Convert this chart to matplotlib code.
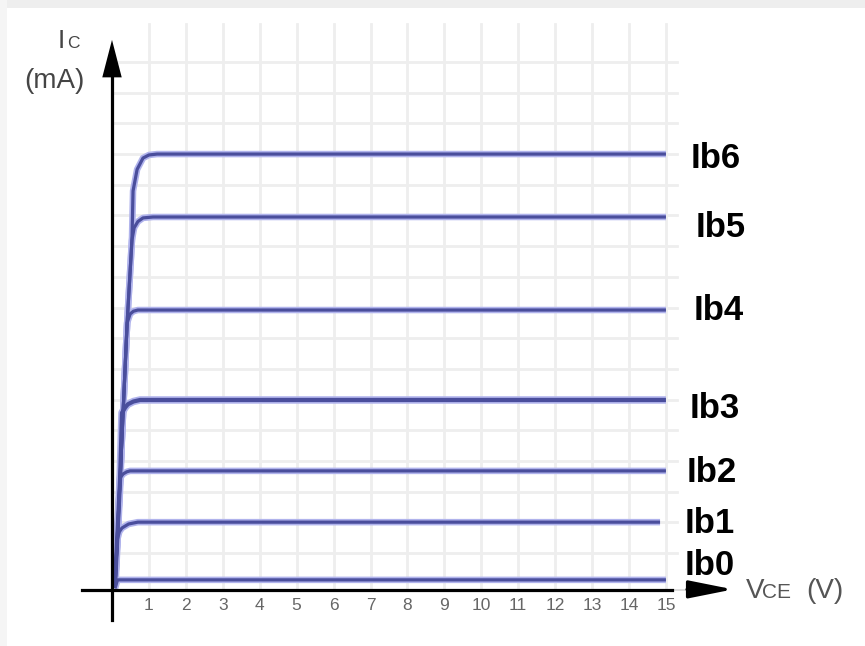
import matplotlib
matplotlib.use('Agg')
import matplotlib.pyplot as plt
from matplotlib.patches import Rectangle

plt.rcParams['font.family'] = ['Liberation Sans', 'DejaVu Sans']

# output characteristic curves, Vce in volts, Ic in grid units (mA)
vce_ib6 = [0.08, 0.22, 0.41, 0.54, 0.57, 0.68, 0.84, 1.00, 1.22, 15.0]
ic_ib6 = [0.1, 3.65, 8.70, 11.4, 13.0, 13.7, 14.07, 14.17, 14.2, 14.2]
vce_ib5 = [0.08, 0.22, 0.41, 0.54, 0.60, 0.70, 0.84, 1.11, 15.0]
ic_ib5 = [0.1, 3.65, 8.70, 11.4, 11.8, 12.0, 12.12, 12.15, 12.15]
vce_ib4 = [0.08, 0.22, 0.41, 0.49, 0.58, 0.70, 15.0]
ic_ib4 = [0.1, 3.65, 8.70, 8.99, 9.08, 9.12, 9.12]
vce_ib3 = [0.08, 0.22, 0.27, 0.36, 0.43, 0.58, 0.76, 15.0]
ic_ib3 = [0.1, 3.65, 5.77, 5.95, 6.05, 6.14, 6.19, 6.19]
vce_ib2 = [0.08, 0.16, 0.22, 0.30, 0.40, 0.49, 15.0]
ic_ib2 = [0.1, 1.95, 3.65, 3.78, 3.85, 3.88, 3.88]
vce_ib1 = [0.08, 0.14, 0.20, 0.27, 0.45, 0.70, 14.84]
ic_ib1 = [0.1, 1.63, 1.90, 2.02, 2.15, 2.21, 2.21]
vce_ib0 = [0.08, 0.15, 15.0]
ic_ib0 = [0.05, 0.33, 0.33]

curves = [(vce_ib6, ic_ib6), (vce_ib5, ic_ib5), (vce_ib4, ic_ib4), (vce_ib3, ic_ib3),
          (vce_ib2, ic_ib2), (vce_ib1, ic_ib1), (vce_ib0, ic_ib0)]
curve_labels = ['Ib6', 'Ib5', 'Ib4', 'Ib3', 'Ib2', 'Ib1', 'Ib0']
x_ticks = list(range(1, 16))

W, H = 865, 646


def px(x, y):
	return x / W, 1 - y / H


fig = plt.figure(figsize=(W / 100, H / 100), dpi=100)
fig.patch.set_facecolor('white')
fig.add_artist(Rectangle((0, 1 - 8 / H), 1, 8 / H, transform=fig.transFigure,
                         color='#eeeeee', lw=0, zorder=-1))
fig.add_artist(Rectangle((0, 0), 7 / W, 1, transform=fig.transFigure,
                         color='#f5f5f5', lw=0, zorder=-1))

ax = fig.add_axes([0, 0, 1, 1])
ax.patch.set_alpha(0)
# 36.93 px per volt, 30.7 px per grid unit, origin at (112, 590)
ax.set_xlim(-112 / 36.93, (W - 112) / 36.93)
ax.set_ylim((590 - H) / 30.7, 590 / 30.7)

# grid
for v in range(1, 16):
	ax.plot([v, v], [0, 18.45], color='#eeeeee', lw=2, zorder=1)
for k in range(1, 18):
	ax.plot([0, 15.3], [k + 0.2, k + 0.2], color='#eeeeee', lw=2, zorder=1)

for (v, i), lab in zip(curves, curve_labels):
	core = 3 if lab == 'Ib3' else 2.3
	ax.plot(v, i, color='#b0b3ec', lw=core + 2.4, solid_joinstyle='round',
	        solid_capstyle='butt', zorder=3)
	ax.plot(v, i, color='#4a4e9c', lw=core, solid_joinstyle='round',
	        solid_capstyle='butt', zorder=4)

# axes lines
for s in ['top', 'right']:
	ax.spines[s].set_visible(False)
ax.spines['left'].set_position(('data', 0))
ax.spines['bottom'].set_position(('data', 0))
ax.spines['left'].set_bounds((590 - 620) / 30.7, 16.8)
ax.spines['bottom'].set_bounds(-30 / 36.93, 15.16)
ax.spines['left'].set_linewidth(2.3)
ax.spines['bottom'].set_linewidth(2.3)
ax.spines['left'].set_zorder(5)
ax.spines['bottom'].set_zorder(5)

ax.set_yticks([])
ax.set_xticks(x_ticks)
ax.set_xticklabels([str(t) for t in x_ticks])
ax.tick_params(axis='x', length=0, pad=6, labelsize=12.5, labelcolor='#666666')

# arrow heads
ax.annotate('', xy=(0, 17.92), xytext=(0, 16.6),
            arrowprops=dict(arrowstyle='-|>,head_length=1.35,head_width=0.35',
                            color='black', lw=0, mutation_scale=20,
                            shrinkA=0, shrinkB=0), zorder=6)
ax.plot([15.16, 15.57], [0, 0], color='#d5d5d5', lw=1.2, zorder=5)
ax.annotate('', xy=(16.82, 0.02), xytext=(15.57, 0.02),
            arrowprops=dict(arrowstyle='-|>,head_length=1.35,head_width=0.27',
                            color='black', lw=2.3, mutation_scale=20,
                            shrinkA=0, shrinkB=0), zorder=6)

# curve labels
label_pos = [(691, 168), (696, 237), (694, 320), (690, 418), (687, 482), (685, 533), (685, 575)]
for lab, (x, y) in zip(curve_labels, label_pos):
	fig.text(*px(x, y), lab, fontsize=25, fontweight='bold', color='black',
	         ha='left', va='baseline')

# axis titles
fig.text(*px(58, 48), 'I', fontsize=19, color='#454545', ha='left', va='baseline')
fig.text(*px(67, 48), 'C', fontsize=12.5, color='#454545', ha='left', va='baseline')
fig.text(*px(24, 88), '(mA)', fontsize=20, color='#454545', ha='left', va='baseline')

fig.text(*px(746, 598), 'V', fontsize=20, color='#555555', ha='left', va='baseline')
fig.text(*px(762, 598), 'CE', fontsize=15, color='#555555', ha='left', va='baseline')
fig.text(*px(806, 598), '(V)', fontsize=20, color='#555555', ha='left', va='baseline')

fig.savefig('out.png', dpi=100)
plt.close()
